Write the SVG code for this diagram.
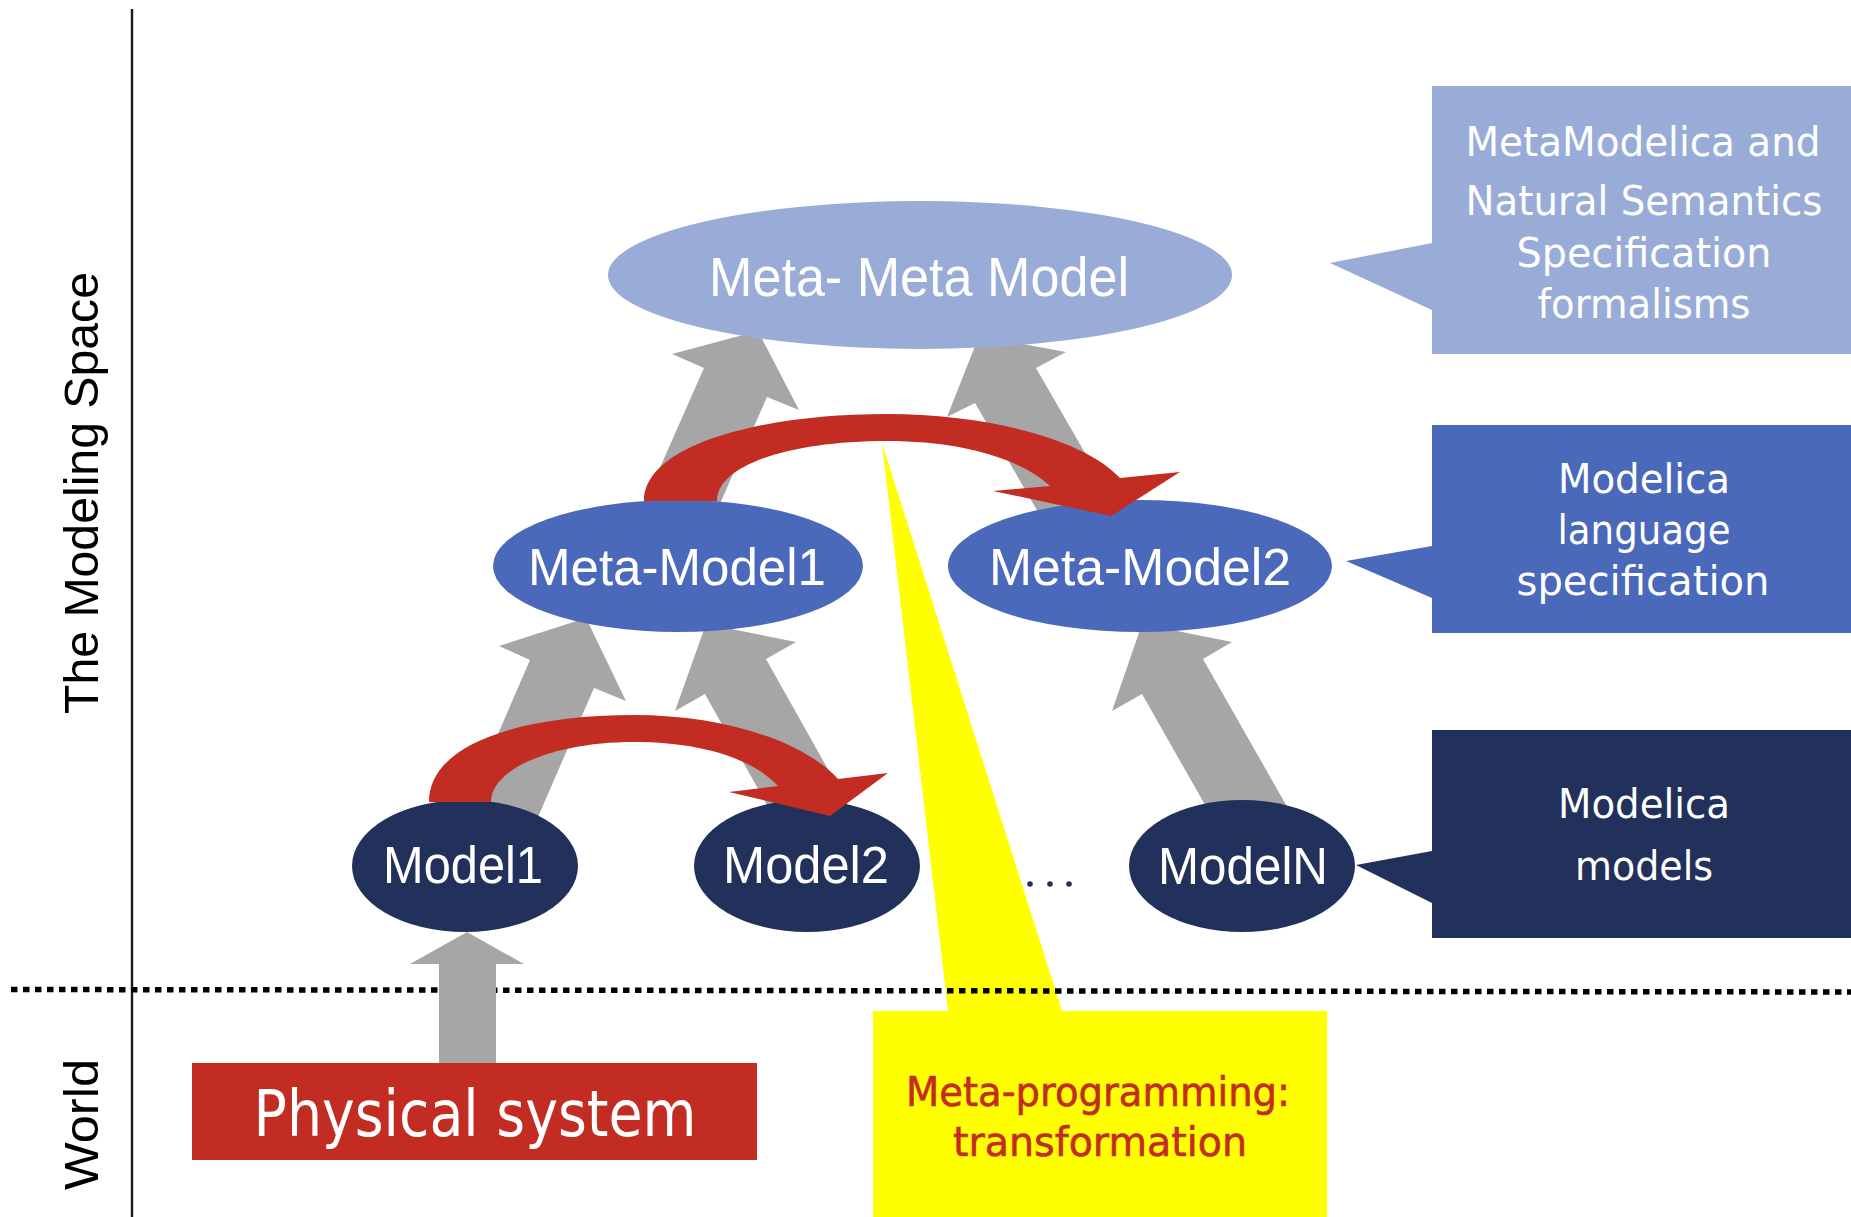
<svg xmlns="http://www.w3.org/2000/svg" width="1851" height="1217" viewBox="0 0 1851 1217">
  <style>
    .lbl { font-family: "DejaVu Sans", "Liberation Sans", sans-serif; fill: #ffffff; text-anchor: middle; }
    .node { font-family: "Liberation Sans", Arial, sans-serif; fill: #ffffff; text-anchor: middle; }
    .side { font-family: "Liberation Sans", Arial, sans-serif; fill: #000000; font-size: 49px; }
    .gray { fill: #a6a6a6; }
    .red { fill: #c22c22; }
    .light { fill: #99acd8; }
    .mid { fill: #4a69bb; }
    .navy { fill: #22315b; }
  </style>

  <rect width="1851" height="1217" fill="#ffffff"/>

  <!-- axis between level labels and the diagram -->
  <line x1="132" y1="9" x2="132" y2="1217" stroke="#1a1a1a" stroke-width="2.4"/>

  <!-- level labels -->
  <text class="side" transform="translate(98,714) rotate(-90)" textLength="442" lengthAdjust="spacingAndGlyphs">The Modeling Space</text>
  <text class="side" transform="translate(98,1190) rotate(-90)" textLength="131" lengthAdjust="spacingAndGlyphs">World</text>

  <!-- yellow callout -->
  <g id="metaprogramming">
    <path d="M873,1011 H948 L882,443 L1062,1011 H1327 V1217 H873 Z" fill="#ffff00"/>
    <text x="1098" y="1106" font-family="DejaVu Sans, sans-serif" font-size="40" fill="#c22c22" stroke="#c22c22" stroke-width="0.6" text-anchor="middle" textLength="384" lengthAdjust="spacingAndGlyphs">Meta-programming:</text>
    <text x="1100" y="1156" font-family="DejaVu Sans, sans-serif" font-size="40" fill="#c22c22" stroke="#c22c22" stroke-width="0.6" text-anchor="middle" textLength="294" lengthAdjust="spacingAndGlyphs">transformation</text>
  </g>

  <!-- boundary between modeling space and world -->
  <line x1="11" y1="989.5" x2="1851" y2="992" stroke="#000000" stroke-width="5.5" stroke-dasharray="6.5 5.5"/>

  <g id="connectors">
    <!-- instance-of block arrows -->
    <polygon class="gray" points="628,540 704,368 672,354 758,331 799,410 767,397 704,540"/>
    <polygon class="gray" points="1060,550 975,403 947,417 979,336 1066,352 1036,368 1141,550"/>
    <polygon class="gray" points="452,840 530,660 499,646 586,618 626,701 594,688 528,840"/>
    <polygon class="gray" points="781,830 705,694 675,711 706,624 796,642 766,659 862,830"/>
    <polygon class="gray" points="1225,840 1142,694 1112,711 1142,624 1232,642 1203,659 1306,840"/>
    <polygon class="gray" points="439,1064 439,964 410,964 467,932 524,964 496,964 496,1064"/>
  </g>

  <g id="meta-meta-model">
    <ellipse class="light" cx="920" cy="275" rx="312" ry="74"/>
    <text class="node" x="919" y="296" font-size="55" textLength="420" lengthAdjust="spacingAndGlyphs">Meta- Meta Model</text>
  </g>
  <g id="meta-model1">
    <ellipse class="mid" cx="678" cy="566" rx="185" ry="66"/>
    <text class="node" x="677" y="585" font-size="52" textLength="298" lengthAdjust="spacingAndGlyphs">Meta-Model1</text>
  </g>
  <g id="meta-model2">
    <ellipse class="mid" cx="1140" cy="566" rx="192" ry="66"/>
    <text class="node" x="1140" y="585" font-size="52" textLength="302" lengthAdjust="spacingAndGlyphs">Meta-Model2</text>
  </g>
  <g id="model1">
    <ellipse class="navy" cx="465" cy="866" rx="113" ry="66"/>
    <text class="node" x="463" y="883" font-size="51" textLength="160" lengthAdjust="spacingAndGlyphs">Model1</text>
  </g>
  <g id="model2">
    <ellipse class="navy" cx="807" cy="866" rx="113" ry="66"/>
    <text class="node" x="806" y="883" font-size="51" textLength="166" lengthAdjust="spacingAndGlyphs">Model2</text>
  </g>
  <g id="modelN">
    <ellipse class="navy" cx="1242" cy="866" rx="113" ry="66"/>
    <text class="node" x="1243" y="884" font-size="51" textLength="170" lengthAdjust="spacingAndGlyphs">ModelN</text>
  </g>
  <g id="ellipsis" class="navy">
    <circle cx="1030" cy="884" r="2.8"/>
    <circle cx="1050" cy="884" r="2.8"/>
    <circle cx="1069" cy="884" r="2.8"/>
  </g>

  <g id="transformations">
    <path class="red" d="M644,501 C644,445 760,414 887,414 C990,414 1085,440 1120,478 L1180,472 L1111,516 L993,491 L1050,486 C1020,458 960,441 887,441 C790,441 717,465 717,501 Z"/>
    <path class="red" d="M429,802 C429,742 525,715 634,715 C725,715 805,742 838,779 L888,773 L830,816 L729,792 L778,786 C752,758 700,742 634,742 C555,742 491,768 491,802 Z"/>
  </g>

  <g id="physical-system">
    <rect class="red" x="192" y="1063" width="565" height="97"/>
    <text class="lbl" x="475" y="1136" font-size="64" textLength="443" lengthAdjust="spacingAndGlyphs">Physical system</text>
  </g>

  <g id="note-formalisms">
    <path class="light" d="M1432,86 H1851 V354 H1432 V310 L1330,263 L1432,243 Z"/>
    <text class="lbl" x="1643" y="156" font-size="41" textLength="355" lengthAdjust="spacingAndGlyphs">MetaModelica and</text>
    <text class="lbl" x="1644" y="215" font-size="41" textLength="357" lengthAdjust="spacingAndGlyphs">Natural Semantics</text>
    <text class="lbl" x="1644" y="267" font-size="41" textLength="255" lengthAdjust="spacingAndGlyphs">Specification</text>
    <text class="lbl" x="1644" y="318" font-size="41" textLength="213" lengthAdjust="spacingAndGlyphs">formalisms</text>
  </g>
  <g id="note-language">
    <path class="mid" d="M1432,425 H1851 V633 H1432 V598 L1346,561 L1432,546 Z"/>
    <text class="lbl" x="1644" y="493" font-size="41" textLength="172" lengthAdjust="spacingAndGlyphs">Modelica</text>
    <text class="lbl" x="1644" y="544" font-size="41" textLength="173" lengthAdjust="spacingAndGlyphs">language</text>
    <text class="lbl" x="1643" y="595" font-size="41" textLength="253" lengthAdjust="spacingAndGlyphs">specification</text>
  </g>
  <g id="note-models">
    <path class="navy" d="M1432,730 H1851 V938 H1432 V903 L1356,865 L1432,851 Z"/>
    <text class="lbl" x="1644" y="818" font-size="41" textLength="172" lengthAdjust="spacingAndGlyphs">Modelica</text>
    <text class="lbl" x="1644" y="880" font-size="41" textLength="138" lengthAdjust="spacingAndGlyphs">models</text>
  </g>
</svg>
